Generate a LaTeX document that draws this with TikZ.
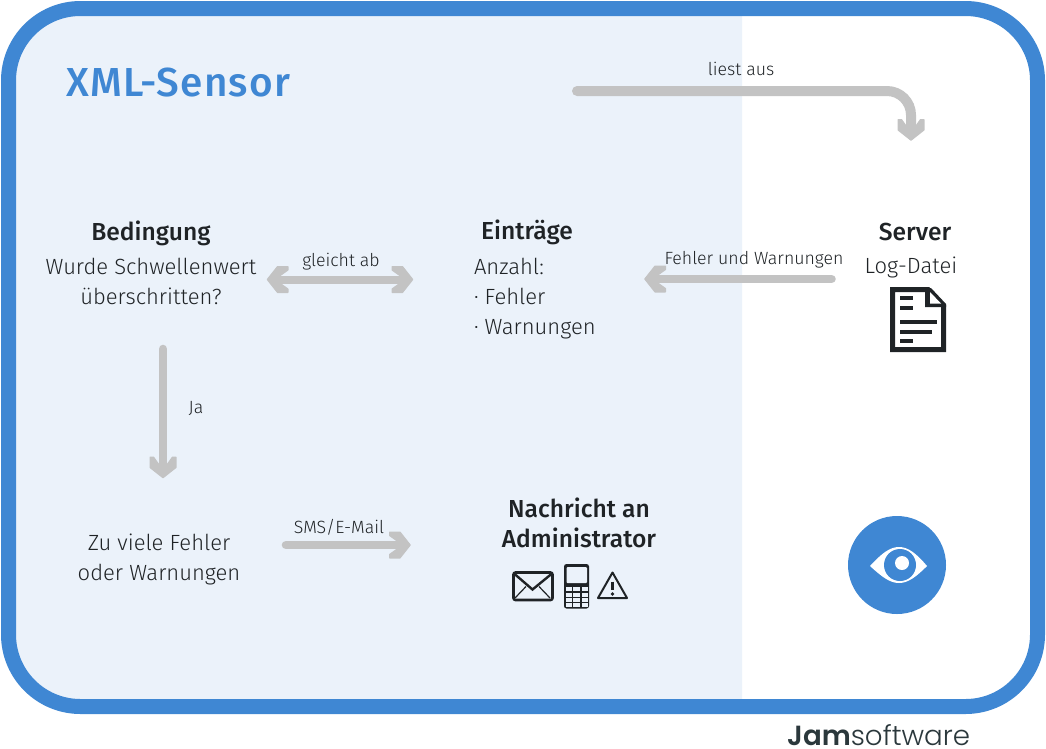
\documentclass[tikz,border=0pt]{standalone}
\usepackage{fontspec}
\setmainfont{Fira Sans}[UprightFont=* Light,BoldFont=* Medium]
\newfontfamily\logofont{Poppins}[UprightFont=* Light,BoldFont=* SemiBold]
\newfontfamily\titlefont{Fira Sans}[UprightFont=* Medium,LetterSpace=3]
\usetikzlibrary{arrows.meta}
\definecolor{frameblue}{HTML}{3F87D3}
\definecolor{paleblue}{HTML}{EBF2FA}
\definecolor{arrowgrey}{HTML}{C3C3C3}
\definecolor{inkdark}{HTML}{1F2326}
\definecolor{logodark}{HTML}{2B383C}
\pgfdeclarearrow{
  name=Chev,
  setup code={%
    \pgfarrowssettipend{0pt}%
    \pgfarrowssetlineend{-12pt}%
    \pgfarrowssetvisualtipend{0pt}%
    \pgfarrowssetbackend{-22pt}%
    \pgfarrowssetvisualbackend{-12pt}%
    \pgfarrowshullpoint{0pt}{0pt}%
    \pgfarrowshullpoint{-22pt}{13.5pt}%
    \pgfarrowshullpoint{-22pt}{-13.5pt}%
  },
  drawing code={%
    \pgfsetlinewidth{1.2pt}%
    \pgfsetroundjoin
    \pgfpathmoveto{\pgfqpoint{-0.8pt}{0pt}}%
    \pgfpathlineto{\pgfqpoint{-11pt}{12.9pt}}%
    \pgfpathlineto{\pgfqpoint{-21.4pt}{12.9pt}}%
    \pgfpathlineto{\pgfqpoint{-21.4pt}{9.5pt}}%
    \pgfpathlineto{\pgfqpoint{-13pt}{3.5pt}}%
    \pgfpathlineto{\pgfqpoint{-13pt}{-3.5pt}}%
    \pgfpathlineto{\pgfqpoint{-21.4pt}{-9.5pt}}%
    \pgfpathlineto{\pgfqpoint{-21.4pt}{-12.9pt}}%
    \pgfpathlineto{\pgfqpoint{-11pt}{-12.9pt}}%
    \pgfpathclose
    \pgfusepathqfillstroke
  }
}
\tikzset{
  x=1pt,y=-1pt,
  txt/.style={inner sep=0pt,outer sep=0pt,text=inkdark,font=\fontsize{22}{30}\selectfont,align=center},
  head/.style={txt,font=\fontsize{24.6}{30}\selectfont\bfseries},
  lab/.style={txt,font=\fontsize{17.7}{20}\selectfont},
  flow/.style={draw=arrowgrey,line width=8.6pt,line cap=round,-Chev},
  twoway/.style={draw=arrowgrey,line width=8pt,Chev-Chev},
  ink/.style={draw=inkdark,line join=miter}
}
\begin{document}
\begin{tikzpicture}
\useasboundingbox (0,0) rectangle (1046,748);
% frame
\begin{scope}
  \clip (0,0) rectangle (742,748);
  \fill[paleblue,rounded corners=72pt] (8.5,8.5) rectangle (1037.5,706.5);
\end{scope}
\draw[frameblue,line width=15pt,rounded corners=72pt] (8.5,8.5) rectangle (1037.5,706.5);
% title
\node[anchor=base west,inner sep=0pt,text=frameblue,font=\fontsize{40.5}{42}\titlefont] (title) at (66,96) {XML-Sensor};
% texts
\node[head,anchor=base] (bedhead) at (151,240) {Bedingung};
\node[txt] (bedtext) at (151,281) {Wurde Schwellenwert\\überschritten?};
\node[head,anchor=base] (einhead) at (527,239) {Einträge};
\node[txt,align=left,anchor=north west] (eintext) at (474,258) {Anzahl:\\· Fehler\\· Warnungen};
\node[head,anchor=base] (srvhead) at (915,240) {Server};
\node[txt,anchor=base] (srvtext) at (911,273) {Log-Datei};
\node[txt] (viele) at (159,559) {Zu viele Fehler\\oder Warnungen};
\node[head,align=center] (nach) at (579,523) {Nachricht an\\Administrator};
\node[lab,anchor=base] (liest) at (741,75) {liest aus};
\node[lab,anchor=base] (gleicht) at (341,266) {gleicht ab};
\node[lab,anchor=base] (fehler) at (754,264) {Fehler und Warnungen};
\node[lab,anchor=base] (ja) at (196,413) {Ja};
\node[lab,anchor=base] (sms) at (339,533) {SMS/E-Mail};
% document icon
\draw[ink,line width=5pt] (892.5,289.5) -- (928,289.5) -- (943.5,306) -- (943.5,349.5) -- (892.5,349.5) -- cycle;
\fill[inkdark] (925,288) -- (931,288) -- (946,304) -- (946,307) -- (925,307) -- cycle;
\fill[white] (930,292) -- (941,303.5) -- (930,303.5) -- cycle;
\foreach \yy/\xe in {298/913,308/913,322/937,332/932,341/913}
  \draw[inkdark,line width=4.5pt] (900,\yy) -- (\xe,\yy);
% envelope
\draw[inkdark,line width=2.6pt,rounded corners=2pt] (513.5,572.5) rectangle (552.5,600);
\draw[inkdark,line width=2.4pt] (514,573.5) -- (532.5,589.5) -- (552,573.5);
\draw[inkdark,line width=1.2pt] (515,598) -- (526,586.5) (550,598) -- (539,586.5);
% phone
\fill[inkdark,rounded corners=2.5pt] (564,564) rectangle (589,608.5);
\fill[paleblue,rounded corners=1pt] (566.5,567) rectangle (587,583);
\foreach \xl/\xr in {565.5/571.5,573/580,581.5/587.5}
  \foreach \yt/\yb in {587/591,592.5/596.5,598/601.5,603/606.5}
    \fill[paleblue] (\xl,\yt) rectangle (\xr,\yb);
% warning
\draw[inkdark,line width=2pt,line join=round] (612.5,572.5) -- (627,598) -- (598,598) -- cycle;
\draw[inkdark,line width=3pt] (612.5,581.5) -- (612.5,590);
\fill[inkdark] (612.5,594) circle (1.8pt);
% eye
\fill[frameblue] (897,565) circle (49pt);
\fill[white] (870,566) .. controls (882,553) and (890,547) .. (899,547) .. controls (908,547) and (916,553) .. (927,566) .. controls (916,577) and (908,583) .. (899,583) .. controls (890,583) and (882,577) .. (870,566) -- cycle;
\fill[frameblue] (900,565) circle (16pt);
\fill[white] (902,563) circle (7pt);
% logo
\node[anchor=base west,inner sep=0pt,text=logodark] (logo) at (787,745) {\resizebox{183pt}{!}{\fontsize{28}{30}\logofont\textbf{Jam}software}};
% connector ends
\coordinate (leseStart) at (577,91);
\coordinate (leseEck) at (911,91);
\coordinate (leseEnde) at (911,141);
\coordinate (gleichL) at (266.5,279.5);
\coordinate (gleichR) at (413.5,279.5);
\coordinate (fehlerR) at (831.5,279);
\coordinate (fehlerL) at (644,279);
\coordinate (jaO) at (163,349);
\coordinate (jaU) at (163,478.5);
\coordinate (smsL) at (286,545);
\coordinate (smsR) at (411,545);
% connectors
\draw[flow,line width=10pt,rounded corners=24pt] (leseStart) -- (leseEck) -- (leseEnde);
\draw[twoway] (gleichL) -- (gleichR);
\draw[flow] (fehlerR) -- (fehlerL);
\draw[flow] (jaO) -- (jaU);
\draw[flow] (smsL) -- (smsR);
\end{tikzpicture}
\end{document}
